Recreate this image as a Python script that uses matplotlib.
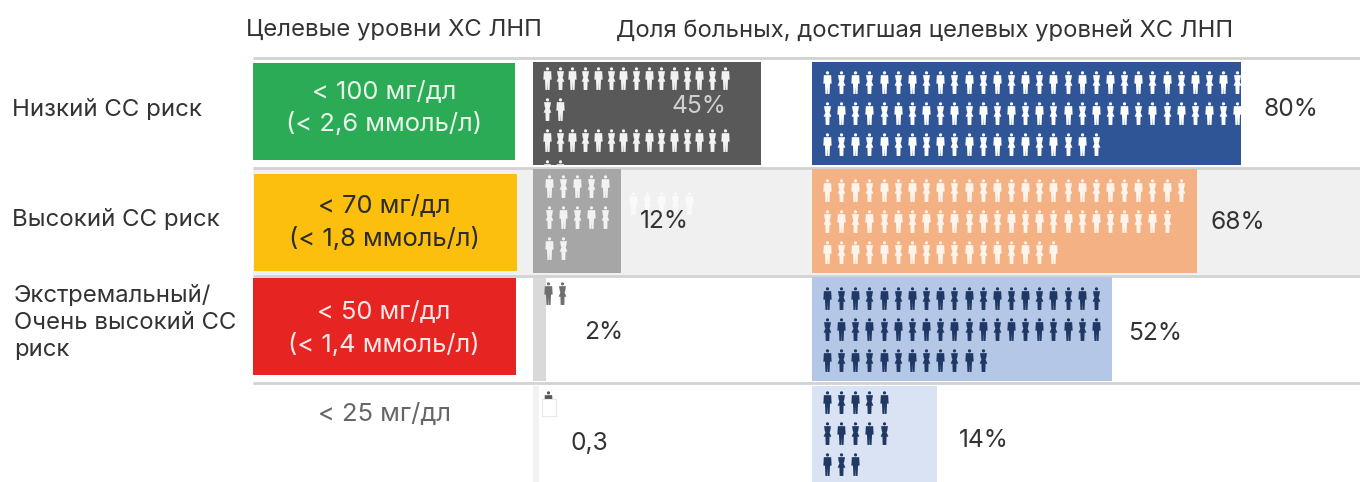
import matplotlib
matplotlib.use('Agg')
import matplotlib.pyplot as plt
from matplotlib.patches import Rectangle
from matplotlib.path import Path

plt.rcParams['font.family'] = ['Inter', 'Noto Sans', 'DejaVu Sans']

# chart content
headers = ['Целевые уровни ХС ЛНП', 'Доля больных, достигшая целевых уровней ХС ЛНП']
risk_labels = ['Низкий СС риск', 'Высокий СС риск', 'Экстремальный/\nОчень высокий СС\nриск']
target_labels = ['< 100 мг/дл\n(< 2,6 ммоль/л)', '< 70 мг/дл\n(< 1,8 ммоль/л)',
                 '< 50 мг/дл\n(< 1,4 ммоль/л)', '< 25 мг/дл']
left_labels = ['45%', '12%', '2%', '0,3']
right_labels = ['80%', '68%', '52%', '14%']

# drawn bar lengths (the source bars are not to scale)
left_lengths = [228, 88, 13, 6]
right_lengths = [429, 385, 300, 125]

# people per row in each pictogram
left_icons = [[15, 2, 15, 2], [5, 5, 2], [2], [1]]
right_icons = [[30, 30, 20], [26, 25, 17], [20, 20, 12], [5, 5, 3]]

left_colors = ['#595959', '#a6a6a6', '#d9d9d9', '#f2f2f2']
right_colors = ['#2f5597', '#f4b183', '#b4c7e7', '#dae3f3']
left_icon_colors = ['#f2f2f2', '#f2f2f2', '#6f6f6f', '#595959']
right_icon_colors = ['#ffffff', '#fff4ec', '#1f3864', '#1f3864']
left_text_colors = ['#d0d0d0', '#333333', '#333333', '#333333']
box_colors = ['#2bab55', '#fdbf0e', '#e62522']
box_text_colors = ['#e8f7ea', '#2b2b2b', '#fde8e8', '#666666']

bar_tops = [61.5, 169, 277, 386]
bar_bottoms = [165, 273, 380.5, 482]
box_rects = [(253, 63, 262, 97), (254, 174, 263, 97), (253, 278, 263, 97)]
target_y = [108.5, 223, 329, 414]
left_text_pos = [(699, 106.5), (664, 221.5), (604, 332.5), (589, 443.5)]
right_text_pos = [(1291, 109.5), (1238, 222.5), (1155, 333.5), (984, 440.5)]
left_icon_start = [(547, 78), (549, 186), (548, 293), (548, 402)]
right_icon_y = [82, 190, 298, 402]


def person(female=False):
    """Little standing figure, height 1, centred on the origin."""
    head = Path.circle((0, 0.42), 0.07)
    if female:
        xs = [-0.15, 0.15, 0.12, 0.09, 0.17, 0.09, 0.08, -0.08, -0.09, -0.17, -0.09, -0.12]
        ys = [0.32, 0.32, 0.12, 0.05, -0.14, -0.14, -0.50, -0.50, -0.14, -0.14, 0.05, 0.12]
    else:
        xs = [-0.16, 0.16, 0.18, 0.11, 0.09, 0.01, 0.0, -0.01, -0.09, -0.11, -0.18]
        ys = [0.32, 0.32, -0.05, -0.05, -0.50, -0.50, -0.15, -0.50, -0.50, -0.05, -0.05]
    body = Path(list(zip(xs, ys)) + [(xs[0], ys[0])], closed=True)
    return Path.make_compound_path(head, body)


MAN = person()
WOMAN = person(True)


def draw_icons(ax, counts, x0, y0, dx, color, clip, dy=31):
    for r, n in enumerate(counts):
        for i in range(n):
            marker = WOMAN if (i + r) % 2 else MAN
            line, = ax.plot(x0 + i * dx, y0 + r * dy, marker=marker, ms=16.5, color=color,
                            mew=0, ls='none', zorder=4)
            line.set_clip_path(clip)


fig = plt.figure(figsize=(13.6, 4.82), dpi=100)
ax = fig.add_axes([0, 0, 1, 1])
ax.set_xlim(0, 1360)
ax.set_ylim(482, 0)
ax.axis('off')

# table rows
ax.add_patch(Rectangle((253, 168), 1107, 107, color='#f0f0f0', lw=0, zorder=0))
for y in [57.5, 167.5, 275.5, 382.5]:
    ax.plot([253, 1360], [y, y], color='#d2d2d2', lw=2, zorder=1, solid_capstyle='butt')

ax.text(246, 30, headers[0], fontsize=17.2, color='#333333', va='center')
ax.text(616, 30, headers[1], fontsize=17.1, color='#333333', va='center')

ax.text(12, 110.5, risk_labels[0], fontsize=17.3, color='#333333', va='center')
ax.text(12, 219.5, risk_labels[1], fontsize=17.3, color='#333333', va='center')
ax.text(14, 323, risk_labels[2], fontsize=17.2, color='#333333', va='center', linespacing=1.27)

for rect, color in zip(box_rects, box_colors):
    ax.add_patch(Rectangle(rect[:2], rect[2], rect[3], color=color, lw=0, zorder=2))
for y, label, color in zip(target_y, target_labels, box_text_colors):
    ax.text(384, y, label, fontsize=18.4, color=color, ha='center', va='center',
            linespacing=1.43, zorder=3)

# bars
for i in range(4):
    h = bar_bottoms[i] - bar_tops[i]
    mid = bar_tops[i] + h / 2
    lbar = ax.barh(mid, left_lengths[i], height=h, left=533, color=left_colors[i], zorder=2)[0]
    rbar = ax.barh(mid, right_lengths[i], height=h, left=812, color=right_colors[i], zorder=2)[0]
    x0, y0 = left_icon_start[i]
    dx = 12.7 if i == 0 else 14.1
    clip_l = Rectangle((533, bar_tops[i]), 228, h, transform=ax.transData)
    draw_icons(ax, left_icons[i], x0, y0, dx, left_icon_colors[i], clip_l)
    draw_icons(ax, right_icons[i], 827, right_icon_y[i], 14.15, right_icon_colors[i], rbar)
    ax.text(*left_text_pos[i], left_labels[i], fontsize=17.7, color=left_text_colors[i],
            ha='center', va='center', zorder=6)
    ax.text(*right_text_pos[i], right_labels[i], fontsize=17.7, color='#333333',
            ha='center', va='center', zorder=6)

# faded row sticking out of the 12% bar
draw_icons(ax, [5], 633, 203, 14, '#fafafa', Rectangle((533, 169), 228, 104, transform=ax.transData))

# the 0,3 figure is cut off by a blank box
ax.add_patch(Rectangle((542, 399), 13.5, 17, facecolor='white', edgecolor='#e8e8e8', lw=0.8, zorder=5))

fig.savefig('out.png', dpi=100)
